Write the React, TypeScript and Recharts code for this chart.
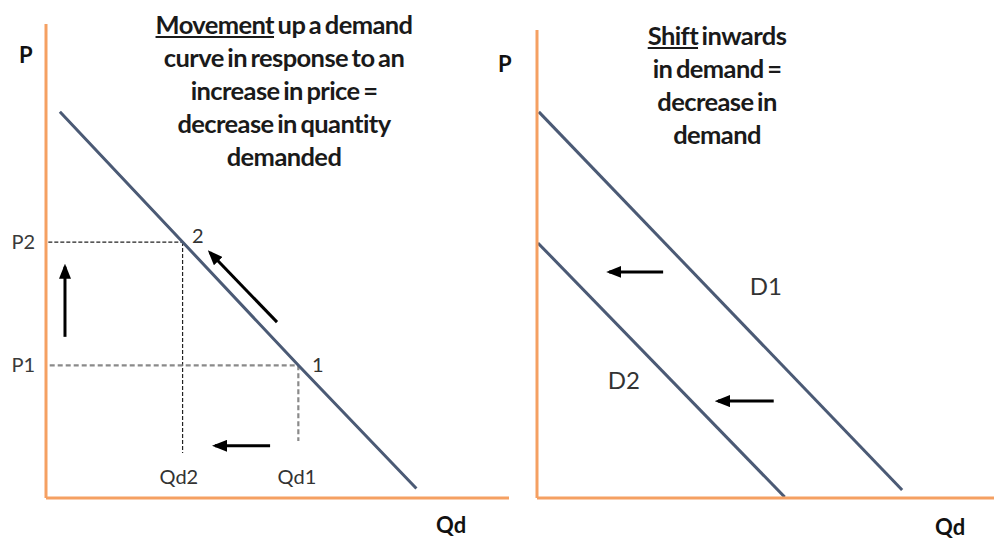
import { LineChart, Line, XAxis, YAxis, ReferenceDot } from "recharts";

// left panel: movement along the demand curve (both axes 0..100)
const demandCurve = [
  { q: 3, p: 81.5 },
  { q: 29.5, p: 54 },
  { q: 54.5, p: 28 },
  { q: 80, p: 2 },
];
const priceTicks = [28, 54];
const priceTickNames = ["P1", "P2"];
const p2Horizontal = [{ q: 0.5, p: 54 }, { q: 29.5, p: 54 }];
const p2Vertical = [{ q: 29.5, p: 54 }, { q: 29.5, p: 9.5 }];
const p1Horizontal = [{ q: 0.8, p: 28 }, { q: 54.5, p: 28 }];
const p1Vertical = [{ q: 54.5, p: 28 }, { q: 54.5, p: 12 }];
const priceUpArrow = [{ q: 4.1, p: 34 }, { q: 4.1, p: 48.8 }];
const alongCurveArrow = [{ q: 49.9, p: 37.1 }, { q: 35.4, p: 51.8 }];
const quantityArrow = [{ q: 48.4, p: 11 }, { q: 36.5, p: 11 }];
const leftLabels = [
  { q: 32.8, p: 55.3, text: "2" },
  { q: 58.7, p: 28.1, text: "1" },
  { q: 28.7, p: 4.4, text: "Qd2" },
  { q: 54.2, p: 4.4, text: "Qd1" },
];

// right panel: shift of the demand curve
const demandD1 = [{ q: 0.4, p: 82.5 }, { q: 79.9, p: 1.7 }];
const demandD2 = [{ q: 0.2, p: 54.5 }, { q: 54.2, p: 0.2 }];
const shiftArrowTop = [{ q: 27.6, p: 48.3 }, { q: 15.8, p: 48.3 }];
const shiftArrowBottom = [{ q: 51.8, p: 20.7 }, { q: 39.6, p: 20.7 }];
const rightLabels = [
  { q: 50.1, p: 45.1, text: "D1" },
  { q: 19.0, p: 25.2, text: "D2" },
];

const ORANGE = "#f5a062";
const CURVE = "#4b5a75";
const FONT = "Lato, 'Open Sans', sans-serif";

const axisLine = { stroke: ORANGE, strokeWidth: 3 };

function ArrowDefs({ id }: { id: string }) {
  return (
    <defs>
      <marker
        id={id}
        markerWidth={15}
        markerHeight={12}
        refX={12}
        refY={6}
        orient="auto"
        markerUnits="userSpaceOnUse"
      >
        <path d="M0,0 L15,6 L0,12 Z" fill="#000" />
      </marker>
    </defs>
  );
}

function Seg({ data, ...rest }: any) {
  return (
    <Line
      data={data}
      dataKey="p"
      type="linear"
      dot={false}
      activeDot={false}
      isAnimationActive={false}
      {...rest}
    />
  );
}

function TextLabel({ q, p, text, size }: { q: number; p: number; text: string; size: number }) {
  return (
    <ReferenceDot
      key={text}
      x={q}
      y={p}
      r={0}
      fill="none"
      stroke="none"
      label={{ value: text, position: "center", fill: "#333", fontSize: size, fontFamily: FONT }}
    />
  );
}

function MovementChart() {
  return (
    <LineChart width={510} height={539} margin={{ top: 24, right: 1, left: 0, bottom: 0 }}>
      <ArrowDefs id="arrowLeft" />
      <XAxis
        type="number"
        dataKey="q"
        domain={[0, 100]}
        allowDataOverflow
        tick={false}
        tickLine={false}
        axisLine={axisLine}
        height={41}
      />
      <YAxis
        type="number"
        domain={[0, 100]}
        allowDataOverflow
        ticks={priceTicks}
        tickFormatter={(v: number) => priceTickNames[priceTicks.indexOf(v)]}
        tick={{ fill: "#3a3a3a", fontSize: 20, fontFamily: FONT }}
        tickLine={false}
        tickSize={9}
        axisLine={axisLine}
        width={46}
      />
      <Seg data={p2Horizontal} stroke="#222" strokeWidth={1.2} strokeDasharray="4 2" />
      <Seg data={p2Vertical} stroke="#222" strokeWidth={1.2} strokeDasharray="4 2" />
      <Seg data={p1Horizontal} stroke="#8a8a8a" strokeWidth={2.2} strokeDasharray="5 3" />
      <Seg data={p1Vertical} stroke="#8a8a8a" strokeWidth={2.2} strokeDasharray="5 3" />
      <Seg data={demandCurve} stroke={CURVE} strokeWidth={3} />
      <Seg data={priceUpArrow} stroke="#000" strokeWidth={3} markerEnd="url(#arrowLeft)" />
      <Seg data={alongCurveArrow} stroke="#000" strokeWidth={3} markerEnd="url(#arrowLeft)" />
      <Seg data={quantityArrow} stroke="#000" strokeWidth={3} markerEnd="url(#arrowLeft)" />
      {leftLabels.map((l) => TextLabel({ ...l, size: 20 }))}
    </LineChart>
  );
}

function ShiftChart() {
  return (
    <LineChart width={503} height={539} margin={{ top: 30, right: 0, left: 0, bottom: 0 }}>
      <ArrowDefs id="arrowRight" />
      <XAxis
        type="number"
        dataKey="q"
        domain={[0, 100]}
        allowDataOverflow
        tick={false}
        tickLine={false}
        axisLine={axisLine}
        height={41}
      />
      <YAxis
        type="number"
        domain={[0, 100]}
        allowDataOverflow
        tick={false}
        tickLine={false}
        axisLine={axisLine}
        width={46}
      />
      <Seg data={demandD1} stroke={CURVE} strokeWidth={3} />
      <Seg data={demandD2} stroke={CURVE} strokeWidth={3} />
      <Seg data={shiftArrowTop} stroke="#000" strokeWidth={3} markerEnd="url(#arrowRight)" />
      <Seg data={shiftArrowBottom} stroke="#000" strokeWidth={3} markerEnd="url(#arrowRight)" />
      {rightLabels.map((l) => TextLabel({ ...l, size: 24 }))}
    </LineChart>
  );
}

const titleStyle: React.CSSProperties = {
  position: "absolute",
  textAlign: "center",
  fontFamily: FONT,
  fontWeight: 700,
  fontSize: 25.5,
  lineHeight: "33px",
  color: "#1a1a1a",
  letterSpacing: -0.6,
  wordSpacing: -2,
};

const axisTitle: React.CSSProperties = {
  position: "absolute",
  fontFamily: FONT,
  fontWeight: 700,
  fontSize: 22,
  color: "#111",
  lineHeight: "24px",
};

export default function App() {
  return (
    <div style={{ position: "absolute", left: 0, top: 0, width: 994, height: 539, background: "#fff", overflow: "hidden" }}>
      <div style={{ position: "absolute", left: 0, top: 0 }}>
        <MovementChart />
      </div>
      <div style={{ position: "absolute", left: 491, top: 0 }}>
        <ShiftChart />
      </div>
      <div style={{ ...titleStyle, left: 114, top: 8, width: 340 }}>
        <span style={{ textDecoration: "underline" }}>Movement</span> up a demand
        <br />
        curve in response to an
        <br />
        increase in price =
        <br />
        decrease in quantity
        <br />
        demanded
      </div>
      <div style={{ ...titleStyle, left: 607, top: 19, width: 220 }}>
        <span style={{ textDecoration: "underline" }}>Shift</span> inwards
        <br />
        in demand =
        <br />
        decrease in
        <br />
        demand
      </div>
      <div style={{ ...axisTitle, left: 19, top: 43 }}>P</div>
      <div style={{ ...axisTitle, left: 498, top: 52 }}>P</div>
      <div style={{ ...axisTitle, left: 436, top: 513 }}>Qd</div>
      <div style={{ ...axisTitle, left: 935, top: 515 }}>Qd</div>
    </div>
  );
}
